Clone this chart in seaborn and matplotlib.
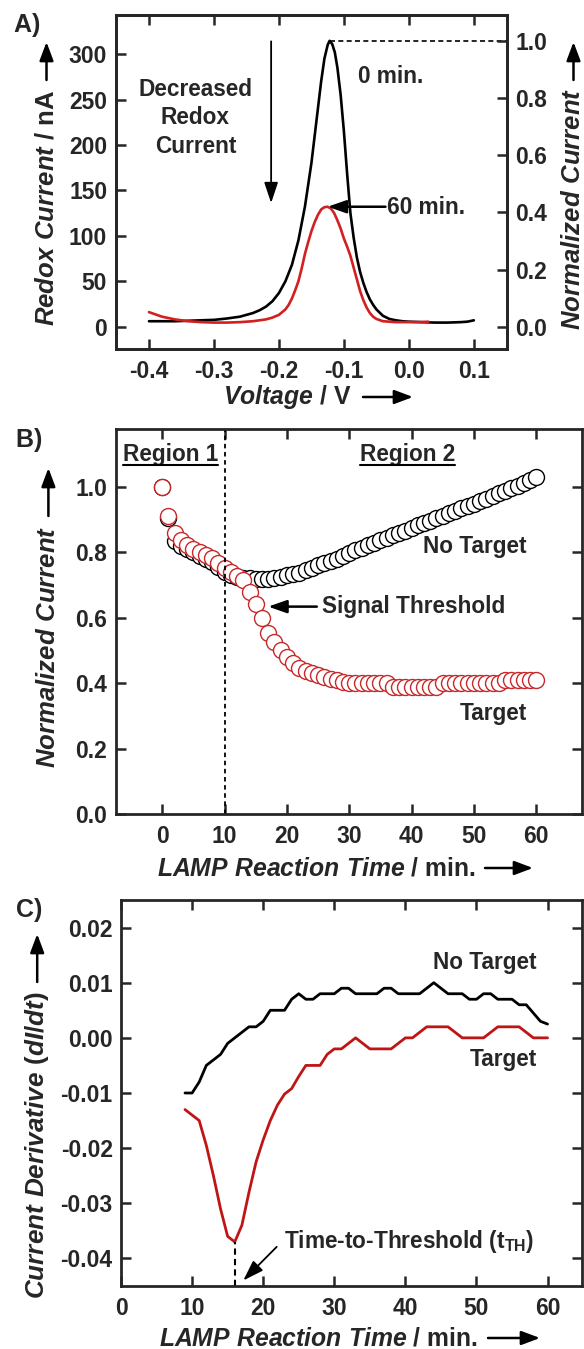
import numpy as np
import pandas as pd
import matplotlib
matplotlib.use("Agg")
import matplotlib.pyplot as plt
import seaborn as sns
from matplotlib.ticker import FormatStrFormatter, MultipleLocator
from matplotlib.lines import Line2D

# ---------------- data ----------------
# A) voltammograms (V, nA)
volt_0min = [-0.40, -0.38, -0.36, -0.34, -0.32, -0.30, -0.28, -0.26, -0.24, -0.23,
             -0.22, -0.21, -0.20, -0.19, -0.18, -0.17, -0.16, -0.15, -0.14, -0.135,
             -0.13, -0.125, -0.122, -0.118, -0.114, -0.11, -0.105, -0.10, -0.095, -0.09,
             -0.085, -0.08, -0.075, -0.07, -0.065, -0.06, -0.055, -0.05, -0.04, -0.03,
             -0.02, -0.01, 0.00, 0.02, 0.04, 0.06, 0.08, 0.09, 0.10]
curr_0min = [6, 6, 6, 6.5, 7, 7.5, 9, 11, 15, 18,
             22, 28, 37, 50, 68, 95, 132, 180, 240, 270,
             295, 310, 314.6, 311, 302, 285, 255, 215, 168, 125,
             98, 76, 60, 48, 38, 30, 24, 19, 12, 8.5,
             7, 6, 5.5, 5, 4.5, 4.5, 5, 5.5, 7]
volt_60min = [-0.40, -0.39, -0.38, -0.36, -0.34, -0.32, -0.30, -0.28, -0.26, -0.24,
              -0.22, -0.21, -0.20, -0.19, -0.185, -0.18, -0.175, -0.17, -0.165, -0.16,
              -0.155, -0.15, -0.145, -0.14, -0.135, -0.13, -0.125, -0.12, -0.115, -0.11,
              -0.105, -0.10, -0.095, -0.09, -0.085, -0.08, -0.075, -0.07, -0.065, -0.06,
              -0.055, -0.05, -0.04, -0.02, 0.00, 0.02, 0.03]
curr_60min = [16, 13.5, 11, 8, 6, 5, 4.5, 4.5, 5, 6,
              8, 10, 13, 19, 24, 31, 40, 50, 64, 80,
              93, 105, 115, 123, 129, 131.5, 132, 130, 125, 117,
              108, 97, 88, 78, 65, 52, 39, 29, 21, 15,
              11, 8.5, 6, 5, 5, 5, 5.5]
peak_current = 314.6  # nA -> 1.0 on the normalized axis

# B) normalized current vs LAMP time
time_b = list(range(0, 61))
norm_no_target = [1.0, 0.905, 0.835, 0.82, 0.81, 0.80, 0.79, 0.78, 0.77, 0.755,
                  0.74, 0.73, 0.725, 0.72, 0.72, 0.718, 0.718, 0.718, 0.72, 0.725,
                  0.73, 0.733, 0.738, 0.745, 0.752, 0.76, 0.767, 0.773, 0.78, 0.79,
                  0.798, 0.806, 0.814, 0.822, 0.83, 0.837, 0.845, 0.852, 0.859, 0.866,
                  0.874, 0.882, 0.89, 0.897, 0.904, 0.912, 0.92, 0.927, 0.934, 0.942,
                  0.949, 0.957, 0.964, 0.972, 0.98, 0.988, 0.996, 1.004, 1.012, 1.02,
                  1.03]
norm_target = [1.0, 0.91, 0.858, 0.838, 0.822, 0.81, 0.80, 0.792, 0.782, 0.766,
               0.752, 0.741, 0.727, 0.715, 0.68, 0.642, 0.60, 0.553, 0.525, 0.50,
               0.48, 0.462, 0.447, 0.436, 0.43, 0.424, 0.418, 0.412, 0.41, 0.405,
               0.40, 0.40, 0.40, 0.40, 0.40, 0.40, 0.40, 0.388, 0.388, 0.388,
               0.388, 0.388, 0.388, 0.388, 0.388, 0.40, 0.40, 0.40, 0.40, 0.40,
               0.40, 0.40, 0.40, 0.40, 0.40, 0.41, 0.41, 0.41, 0.41, 0.41,
               0.41]
region_split = 10

# C) derivative
time_c = list(range(9, 61))
deriv_no_target = [-0.010, -0.010, -0.008, -0.005, -0.004, -0.003, -0.001, 0.0, 0.001, 0.002,
                   0.002, 0.003, 0.005, 0.005, 0.005, 0.007, 0.008, 0.007, 0.007, 0.008,
                   0.008, 0.008, 0.009, 0.009, 0.008, 0.008, 0.008, 0.008, 0.009, 0.009,
                   0.008, 0.008, 0.008, 0.008, 0.009, 0.010, 0.009, 0.008, 0.008, 0.008,
                   0.007, 0.007, 0.008, 0.008, 0.007, 0.007, 0.007, 0.006, 0.006, 0.0045,
                   0.003, 0.0025]
deriv_target = [-0.013, -0.014, -0.015, -0.0195, -0.025, -0.031, -0.036, -0.037, -0.034, -0.028,
                -0.0225, -0.0185, -0.015, -0.0122, -0.0102, -0.0092, -0.007, -0.005, -0.005, -0.005,
                -0.003, -0.002, -0.002, -0.001, 0.0, -0.001, -0.002, -0.002, -0.002, -0.002,
                -0.001, 0.0, 0.0, 0.001, 0.002, 0.002, 0.002, 0.002, 0.001, 0.0,
                0.0, 0.0, 0.0, 0.001, 0.002, 0.002, 0.002, 0.002, 0.001, 0.0,
                0.0, 0.0]
t_threshold = 16

# ---------------- style ----------------
sns.set_style("ticks")
plt.rcParams.update({
    "font.family": ["Liberation Sans", "DejaVu Sans"],
    "font.weight": "bold",
    "axes.linewidth": 2.0,
    "xtick.direction": "in", "ytick.direction": "in",
    "xtick.major.size": 7, "ytick.major.size": 7,
    "xtick.major.width": 1.8, "ytick.major.width": 1.8,
    "xtick.major.pad": 8, "ytick.major.pad": 6,
    "xtick.labelsize": 16.5, "ytick.labelsize": 16.5,
    "axes.unicode_minus": False,
    "mathtext.fontset": "custom",
    "mathtext.it": "Liberation Sans:italic:bold",
    "mathtext.rm": "Liberation Sans",
    "mathtext.bf": "Liberation Sans:bold",
})

W, H = 584, 1349
fig = plt.figure(figsize=(W / 100, H / 100), dpi=100)


def box(l, t, r, b):
    return [l / W, 1 - b / H, (r - l) / W, (b - t) / H]


def fpt(x, y):
    return (x / W, 1 - y / H)


RED_A = "#d21f1f"
RED_B = "#c8282a"
RED_C = "#bf1515"
ylab_fs = 18.5
xlab_fs = 17.8
txt_fs = 16.3

arrow_kw = dict(arrowstyle="-|>,head_length=0.8,head_width=0.28", color="k",
                lw=1.8, shrinkA=0, shrinkB=0, mutation_scale=14)
thin_arrow = dict(arrowstyle="-|>,head_length=0.9,head_width=0.3", color="k",
                  lw=1.3, shrinkA=0, shrinkB=0, mutation_scale=14)


def axis_arrow(p0, p1):
    fig.add_artist(matplotlib.patches.FancyArrowPatch(
        fpt(*p0), fpt(*p1), transform=fig.transFigure,
        arrowstyle="-|>,head_length=0.8,head_width=0.3", color="k",
        lw=1.8, mutation_scale=14, shrinkA=0, shrinkB=0))


# ---------------- panel A ----------------
axA = fig.add_axes(box(115.5, 15, 507, 349.3))
sns.lineplot(x=volt_0min, y=curr_0min, ax=axA, color="k", lw=1.9)
sns.lineplot(x=volt_60min, y=curr_60min, ax=axA, color=RED_A, lw=1.9)
axA.set_xlim(-0.4515, 0.151)
axA.set_ylim(-24.9, 343)
axA.xaxis.set_major_locator(MultipleLocator(0.1))
axA.xaxis.set_major_formatter(FormatStrFormatter("%.1f"))
axA.yaxis.set_major_locator(MultipleLocator(50))
axA.tick_params(top=True, right=False, labeltop=False)
imax = int(np.argmax(curr_0min))
axA.hlines(curr_0min[imax], volt_0min[imax], 0.151, colors="k", lw=1.2,
           linestyles=(0, (3, 2)))
axR = axA.twinx()
axR.set_ylim(-24.9 / peak_current, 343 / peak_current)
axR.yaxis.set_major_locator(MultipleLocator(0.2))
axR.yaxis.set_major_formatter(FormatStrFormatter("%.1f"))
axR.tick_params(axis="y", direction="in", length=7, width=1.8, labelsize=16.5, pad=6)
for sp in axR.spines.values():
    sp.set_linewidth(2.0)

axA.text(-0.3285, 229.8, "Decreased\nRedox\nCurrent", ha="center", va="center",
         fontsize=txt_fs, linespacing=1.3)
axA.annotate("", xy=(-0.212, 136), xytext=(-0.212, 314), arrowprops=thin_arrow)
axA.text(-0.028, 275, "0 min.", ha="center", va="center", fontsize=txt_fs)
axA.text(-0.034, 131, "60 min.", ha="left", va="center", fontsize=txt_fs)
axA.annotate("", xy=(-0.125, 132), xytext=(-0.036, 132), arrowprops=arrow_kw)

fig.text(*fpt(13, 25), r"A$\mathrm{)}$", fontsize=18, ha="left", va="center")
fig.text(*fpt(46.5, 208), r"$\mathit{Redox\ Current}$ / nA", rotation=90,
         ha="center", va="center", fontsize=ylab_fs)
axis_arrow((46.5, 80), (46.5, 42))
fig.text(*fpt(573.5, 209), r"$\mathit{Normalized\ Current}$", rotation=90,
         ha="center", va="center", fontsize=ylab_fs)
axis_arrow((573.5, 80), (573.5, 42))
fig.text(*fpt(287, 397), r"$\mathit{Voltage}$ / V", ha="center", va="center",
         fontsize=xlab_fs)
axis_arrow((363, 397), (413, 397))

# ---------------- panel B ----------------
axB = fig.add_axes(box(115.5, 429, 581.7, 814))
sns.lineplot(x=time_b, y=norm_no_target, ax=axB, color="k", marker="o",
             linestyle="", markersize=11.5, markerfacecolor="white",
             markeredgecolor="k", markeredgewidth=1.0)
sns.lineplot(x=time_b, y=norm_target, ax=axB, color=RED_B, marker="o",
             linestyle="", markersize=11.5, markerfacecolor="white",
             markeredgecolor=RED_B, markeredgewidth=1.0)
axB.set_xlim(-7.5, 67.3)
axB.set_ylim(0, 1.177)
axB.xaxis.set_major_locator(MultipleLocator(10))
axB.yaxis.set_major_locator(MultipleLocator(0.2))
axB.yaxis.set_major_formatter(FormatStrFormatter("%.1f"))
axB.tick_params(top=True, right=True, labeltop=False, labelright=False)
axB.axvline(region_split, color="k", lw=1.3, ls=(0, (2.5, 2)))
r1 = axB.text(1.3, 1.098, "Region 1", ha="center", va="center", fontsize=txt_fs)
r2 = axB.text(39.3, 1.098, "Region 2", ha="center", va="center", fontsize=txt_fs)
axB.text(58.5, 0.817, "No Target", ha="right", va="center", fontsize=txt_fs)
axB.text(58.5, 0.306, "Target", ha="right", va="center", fontsize=txt_fs)
axB.text(25.7, 0.634, "Signal Threshold", ha="left", va="center", fontsize=txt_fs)
axB.annotate("", xy=(17.0, 0.634), xytext=(24.8, 0.634), arrowprops=arrow_kw)

fig.text(*fpt(15, 440), r"B$\mathrm{)}$", fontsize=18, ha="left", va="center")
fig.text(*fpt(48.4, 647), r"$\mathit{Normalized\ Current}$", rotation=90,
         ha="center", va="center", fontsize=ylab_fs)
axis_arrow((48.4, 516), (48.4, 468))
fig.text(*fpt(316, 868), r"$\mathit{LAMP\ Reaction\ Time}$ / min.", ha="center",
         va="center", fontsize=xlab_fs)
axis_arrow((485, 868), (533, 868))

# ---------------- panel C ----------------
axC = fig.add_axes(box(121, 900, 581.7, 1286))
sns.lineplot(x=time_c, y=deriv_no_target, ax=axC, color="k", lw=2.0)
sns.lineplot(x=time_c, y=deriv_target, ax=axC, color=RED_C, lw=2.0)
axC.set_xlim(0, 64.8)
axC.set_ylim(-0.045, 0.025)
axC.xaxis.set_major_locator(MultipleLocator(10))
axC.yaxis.set_major_locator(MultipleLocator(0.01))
axC.yaxis.set_major_formatter(FormatStrFormatter("%.2f"))
axC.tick_params(top=True, right=True, labeltop=False, labelright=False)
ith = time_c.index(t_threshold)
axC.vlines(t_threshold, -0.045, deriv_target[ith], colors="k", lw=1.5,
           linestyles=(0, (3, 2)))
axC.text(58.5, 0.0136, "No Target", ha="right", va="center", fontsize=txt_fs)
axC.text(58.5, -0.004, "Target", ha="right", va="center", fontsize=txt_fs)
axC.text(22.9, -0.0369, r"Time-to-Threshold (t$_{\mathrm{TH}}$)", ha="left",
         va="center", fontsize=txt_fs)
axC.annotate("", xy=(17.2, -0.044), xytext=(21.9, -0.0379), arrowprops=thin_arrow)

fig.text(*fpt(15, 910), r"C$\mathrm{)}$", fontsize=18, ha="left", va="center")
fig.text(*fpt(37.2, 1145), r"$\mathit{Current\ Derivative\ (dI/dt)}$", rotation=90,
         ha="center", va="center", fontsize=18.8)
axis_arrow((37.2, 982), (37.2, 934))
fig.text(*fpt(318, 1338), r"$\mathit{LAMP\ Reaction\ Time}$ / min.", ha="center",
         va="center", fontsize=xlab_fs)
axis_arrow((488, 1338), (540, 1338))

for ax in (axA, axB, axC):
    for sp in ax.spines.values():
        sp.set_linewidth(2.0)

# underline the region headers
fig.canvas.draw()
inv = fig.transFigure.inverted()
for t in (r1, r2):
    bb = t.get_window_extent()
    (x0, y0), (x1, _) = inv.transform([(bb.x0, bb.y0), (bb.x1, bb.y1)])
    fig.add_artist(Line2D([x0, x1], [y0 + 1 / H, y0 + 1 / H], color="k", lw=1.5,
                          transform=fig.transFigure))

fig.savefig("out.png", dpi=100)
